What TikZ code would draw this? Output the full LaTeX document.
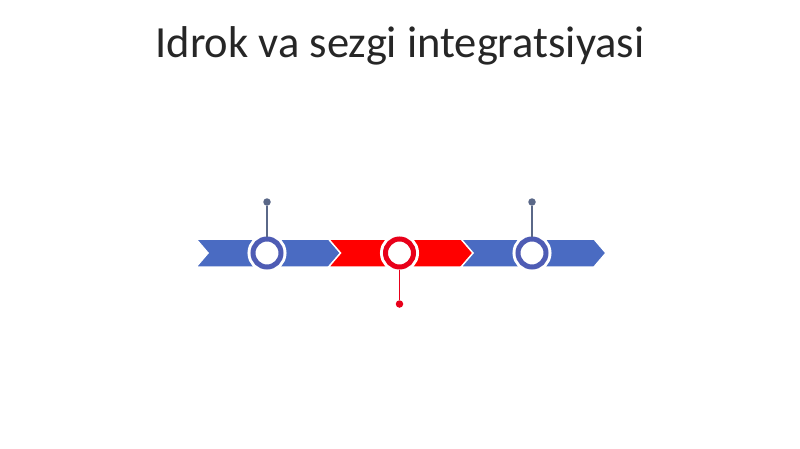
\documentclass[tikz,border=0pt]{standalone}
\usepackage{fontspec}
\setmainfont{Carlito}
\definecolor{barblue}{HTML}{4A6BC2}
\definecolor{ringblue}{HTML}{4E5CB4}
\definecolor{barred}{HTML}{FF0000}
\definecolor{ringred}{HTML}{E8001A}
\definecolor{stemgrey}{HTML}{5A6888}
\definecolor{titlegrey}{HTML}{262626}
\tikzset{
    ring/.style={circle,draw=#1,fill=white,line width=0.15cm,minimum size=0.84cm,
        inner sep=0pt,outer sep=0.075cm,preaction={draw=white,line width=0.33cm}},
    pin/.style={circle,fill=#1,minimum size=0.225cm,inner sep=0pt},
    stem/.style={draw=#1,line width=0.055cm}
}
\begin{document}
\begin{tikzpicture}[x=0.03cm,y=-0.03cm]
        \useasboundingbox (0,0) rectangle (800,449);
        %% title
        \node (title) [anchor=base,text=titlegrey,font=\fontsize{38}{46}\selectfont]
            at (400,58) {Idrok va sezgi integratsiyasi};
        %% chevrons
        \foreach \i/\col in {0/barblue,1/barred,2/barblue}
            \filldraw[fill=\col,draw=white,line width=0.045cm]
                (196+132.5*\i,239) -- ++(133,0) -- ++(12,14) -- ++(-12,14)
                -- ++(-133,0) -- ++(12,-14) -- cycle;
        %% rings
        \node (c1) [ring=ringblue] at (267,253) {};
        \node (c2) [ring=ringred] at (399.5,253) {};
        \node (c3) [ring=ringblue] at (532,253) {};
        %% pins
        \node (d1) [pin=stemgrey] at (267,202) {};
        \node (d2) [pin=ringred] at (399.5,304) {};
        \node (d3) [pin=stemgrey] at (532,202) {};
        \draw[stem=stemgrey] (c1.north) -- (d1);
        \draw[stem=ringred] (c2.south) -- (d2);
        \draw[stem=stemgrey] (c3.north) -- (d3);
    \end{tikzpicture}
\end{document}
